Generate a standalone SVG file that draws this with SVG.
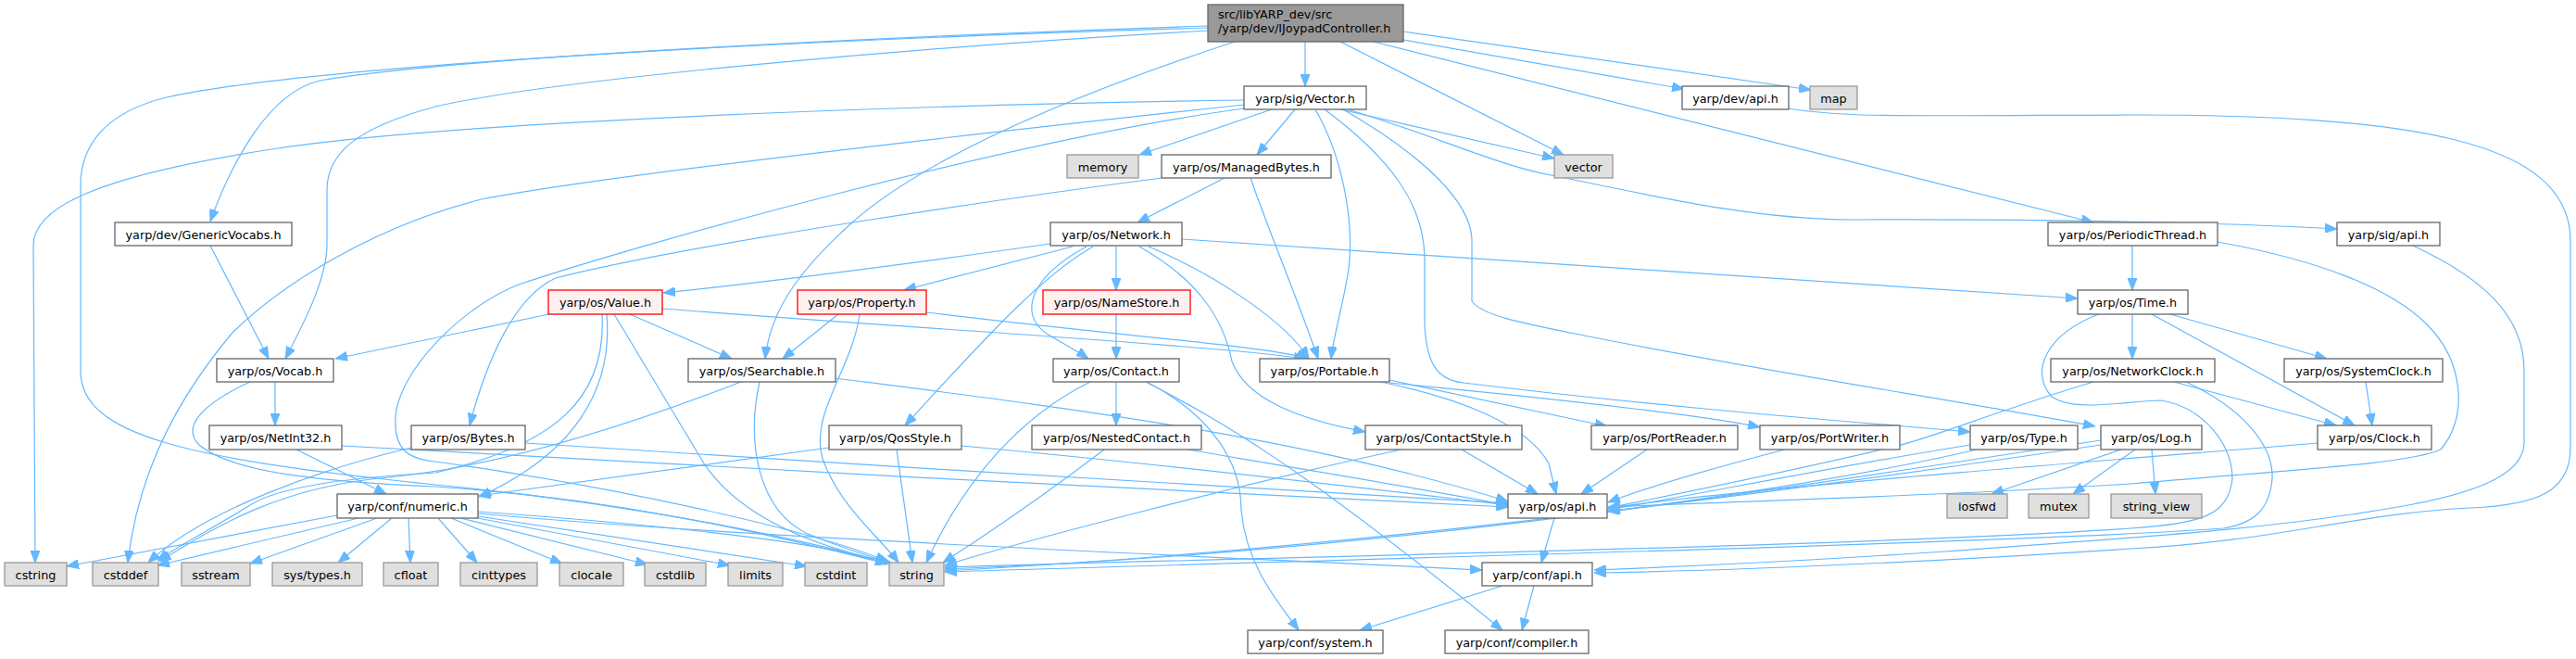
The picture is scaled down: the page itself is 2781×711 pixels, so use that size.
<svg xmlns="http://www.w3.org/2000/svg" width="2781" height="711" viewBox="0 0 2781 711">
<defs>
<marker id="a" markerUnits="userSpaceOnUse" markerWidth="13" markerHeight="10" refX="13" refY="5" orient="auto"><path d="M0,0 L13,5 L0,10 z" fill="#63b8ff" stroke="#63b8ff" stroke-width="1"/></marker>
</defs>
<style>
rect{fill:#ffffff;stroke:#666666;stroke-width:1.3}
.ext rect{fill:#e0e0e0;stroke:#999999}
.red rect{fill:#fff0f0;stroke:#ff0000}
.main rect{fill:#999999;stroke:#666666}
text{font-family:"DejaVu Sans","Liberation Sans",sans-serif;font-size:12.8px;fill:#000000;text-anchor:middle}
.main text{text-anchor:start}
#edges path{fill:none;stroke:#63b8ff;stroke-width:1.2;marker-end:url(#a)}
</style>
<rect x="0" y="0" width="2781" height="711" style="fill:#ffffff;stroke:none"/>
<g id="edges">
<path d="M1304,28 C1000,38 500,60 345,87 C290,100 250,175 227,239"/>
<path d="M1304,30 C900,42 350,68 180,105 C110,122 87,160 87,200 L87,400 C87,470 200,495 470,523 C700,545 880,585 958,608"/>
<path d="M1304,33 C1000,50 600,85 470,115 C385,138 353,165 353,205 L353,263 C353,300 330,345 308,387"/>
<path d="M1447,45 L1688,167"/>
<path d="M1409,45 L1409,93"/>
<path d="M1515,43 L1818,96"/>
<path d="M1515,34 L1955,97"/>
<path d="M1483,45 L2260,240"/>
<path d="M1333,45 C1150,105 1000,170 920,240 C870,285 832,330 826,387"/>
<path d="M1343,108 C1000,113 500,130 300,160 C100,190 36,225 36,265 L38,607"/>
<path d="M1343,113 C1000,150 650,190 520,215 C400,245 300,310 250,360 C200,420 150,500 138,607"/>
<path d="M1343,117 C1100,150 700,260 560,307 C500,330 430,400 427,450 C425,485 440,495 470,498 C700,530 900,580 958,606"/>
<path d="M1373,118 L1230,167"/>
<path d="M1398,118 L1357,167"/>
<path d="M1447,118 L1678,171"/>
<path d="M1420,118 C1450,170 1462,240 1456,290 C1450,330 1440,360 1437,387"/>
<path d="M1430,118 C1500,170 1538,220 1538,280 L1538,350 C1540,390 1550,410 1580,413 C1800,440 2000,455 2127,466"/>
<path d="M1450,118 C1540,170 1589,220 1589,260 L1589,325 C1600,340 1640,348 1700,360 C1900,400 2100,430 2262,460"/>
<path d="M1455,118 C1560,150 1620,180 1680,190 C1800,215 1900,237 2000,237 C2200,236 2400,240 2523,247"/>
<path d="M1254,192 C1100,212 750,262 600,300 C555,320 525,390 507,459"/>
<path d="M1322,192 L1228,240"/>
<path d="M1350,192 C1370,250 1400,320 1423,387"/>
<path d="M1134,263 C1000,282 850,302 716,316"/>
<path d="M1158,266 L976,313"/>
<path d="M1205,266 L1205,313"/>
<path d="M1180,266 C1120,300 1050,380 977,459"/>
<path d="M1173,266 C1110,300 1100,340 1130,360 C1150,372 1165,380 1175,387"/>
<path d="M1230,266 C1290,300 1320,340 1330,390 C1345,430 1400,452 1474,466"/>
<path d="M1240,266 C1320,300 1390,350 1413,387"/>
<path d="M1276,258 L2243,322"/>
<path d="M593,339 L362,387"/>
<path d="M680,339 L790,387"/>
<path d="M715,333 C1000,355 1300,372 1410,387"/>
<path d="M655,339 C662,420 620,490 517,536"/>
<path d="M650,339 C655,430 600,480 470,510 C380,515 300,525 270,545 C230,570 190,590 170,605"/>
<path d="M663,339 L760,500 C800,560 880,590 962,607"/>
<path d="M905,339 L845,387"/>
<path d="M928,339 C920,400 870,450 890,500 C910,550 950,580 970,607"/>
<path d="M1000,337 C1200,362 1360,372 1413,387"/>
<path d="M1205,339 L1205,387"/>
<path d="M902,408 C1150,440 1400,470 1628,541"/>
<path d="M820,412 C805,480 820,550 870,575 C910,592 940,600 962,608"/>
<path d="M800,412 C650,470 520,505 420,515 C300,525 230,570 172,606"/>
<path d="M297,412 L297,459"/>
<path d="M270,412 C220,435 195,460 215,480 C250,510 350,520 470,525 C700,540 880,590 958,608"/>
<path d="M227,265 L290,387"/>
<path d="M320,485 L417,533"/>
<path d="M369,481 C700,500 1300,532 1628,547"/>
<path d="M444,483 C350,505 220,550 160,607"/>
<path d="M567,478 C900,500 1400,530 1628,543"/>
<path d="M895,483 L517,535"/>
<path d="M968,485 L985,607"/>
<path d="M1038,481 C1300,505 1500,530 1628,545"/>
<path d="M1205,412 L1205,459"/>
<path d="M1177,412 C1100,450 1040,520 1000,607"/>
<path d="M1240,413 C1310,450 1340,500 1340,550 C1345,610 1380,650 1402,680"/>
<path d="M1237,412 C1320,455 1400,500 1622,680"/>
<path d="M1192,485 C1120,540 1060,580 1018,607"/>
<path d="M1282,485 C1400,505 1550,530 1628,545"/>
<path d="M1578,485 L1660,533"/>
<path d="M1513,485 C1350,520 1100,585 1020,610"/>
<path d="M1490,412 C1580,430 1650,460 1672,500 L1680,533"/>
<path d="M1500,410 L1735,460"/>
<path d="M1500,413 C1700,432 1850,450 1900,461"/>
<path d="M1778,485 L1707,533"/>
<path d="M1927,485 C1850,505 1780,525 1736,542"/>
<path d="M2127,480 C2000,500 1850,530 1736,550"/>
<path d="M2134,485 C1900,540 1400,600 1020,614"/>
<path d="M2268,475 C2100,500 1900,532 1736,552"/>
<path d="M2290,485 L2150,533"/>
<path d="M2305,485 L2238,533"/>
<path d="M2323,485 L2327,533"/>
<path d="M2268,480 C2000,520 1500,590 1020,616"/>
<path d="M2302,339 L2302,387"/>
<path d="M2343,339 L2512,387"/>
<path d="M2323,339 L2542,459"/>
<path d="M2268,338 C2210,360 2190,400 2215,428 C2240,445 2290,433 2333,432 C2380,440 2410,480 2410,517 C2405,555 2380,565 2300,570 C2000,590 1400,600 1020,612"/>
<path d="M2347,412 L2522,459"/>
<path d="M2360,412 C2420,440 2455,480 2453,517 C2450,550 2433,565 2400,570 C2200,585 1400,605 1020,617"/>
<path d="M2260,412 C2150,445 2080,475 2040,483 C1950,505 1850,525 1736,548"/>
<path d="M2554,412 L2561,459"/>
<path d="M2502,478 C2300,495 1900,525 1736,548"/>
<path d="M2302,265 L2302,313"/>
<path d="M2394,261 C2500,280 2580,310 2620,350 C2660,390 2665,450 2635,485 C2600,500 2500,505 2300,522 C2100,535 1900,540 1736,547"/>
<path d="M2605,265 C2680,300 2725,340 2725,400 L2725,477 C2725,510 2680,530 2600,545 C2450,572 2300,580 2100,595 C1950,605 1800,612 1721,615"/>
<path d="M1931,117 C1990,127 2050,125 2300,124 C2600,124 2775,150 2775,260 L2775,483 C2775,530 2740,545 2667,548 C2550,553 2450,585 2300,592 C2100,605 1900,615 1721,618"/>
<path d="M1678,559 L1664,607"/>
<path d="M1622,632 L1468,680"/>
<path d="M1656,632 L1643,680"/>
<path d="M364,556 L72,611"/>
<path d="M387,559 L170,610"/>
<path d="M407,559 L270,608"/>
<path d="M423,559 L365,607"/>
<path d="M441,559 L443,607"/>
<path d="M473,559 L515,607"/>
<path d="M487,559 L607,608"/>
<path d="M497,559 L699,609"/>
<path d="M510,558 L788,610"/>
<path d="M516,557 L871,611"/>
<path d="M516,552 C700,565 900,585 958,609"/>
<path d="M516,554 C800,580 1300,600 1600,615"/>
</g>
<g id="n_main" class="main"><rect x="1304" y="5" width="211" height="40"/><text x="1315" y="20">src/libYARP_dev/src</text><text x="1315" y="35">/yarp/dev/IJoypadController.h</text></g>
<g id="n_vector_h"><rect x="1343" y="93" width="132" height="25"/><text x="1409" y="110.5">yarp/sig/Vector.h</text></g>
<g id="n_devapi"><rect x="1816" y="93" width="115" height="25"/><text x="1873.5" y="110.5">yarp/dev/api.h</text></g>
<g id="n_map" class="ext"><rect x="1954" y="93" width="51" height="25"/><text x="1979.5" y="110.5">map</text></g>
<g id="n_memory" class="ext"><rect x="1152" y="167" width="77" height="25"/><text x="1190.5" y="184.5">memory</text></g>
<g id="n_managedbytes"><rect x="1254" y="167" width="183" height="25"/><text x="1345.5" y="184.5">yarp/os/ManagedBytes.h</text></g>
<g id="n_vector" class="ext"><rect x="1678" y="167" width="63" height="25"/><text x="1709.5" y="184.5">vector</text></g>
<g id="n_genericvocabs"><rect x="124" y="240" width="191" height="25"/><text x="219.5" y="257.5">yarp/dev/GenericVocabs.h</text></g>
<g id="n_network"><rect x="1134" y="240" width="142" height="25"/><text x="1205" y="257.5">yarp/os/Network.h</text></g>
<g id="n_periodicthread"><rect x="2211" y="240" width="183" height="25"/><text x="2302.5" y="257.5">yarp/os/PeriodicThread.h</text></g>
<g id="n_sigapi"><rect x="2523" y="240" width="111" height="25"/><text x="2578.5" y="257.5">yarp/sig/api.h</text></g>
<g id="n_value" class="red"><rect x="592" y="313" width="123" height="26"/><text x="653.5" y="330.5">yarp/os/Value.h</text></g>
<g id="n_property" class="red"><rect x="861" y="313" width="139" height="26"/><text x="930.5" y="330.5">yarp/os/Property.h</text></g>
<g id="n_namestore" class="red"><rect x="1126" y="313" width="159" height="26"/><text x="1205.5" y="330.5">yarp/os/NameStore.h</text></g>
<g id="n_time"><rect x="2243" y="313" width="119" height="26"/><text x="2302.5" y="330.5">yarp/os/Time.h</text></g>
<g id="n_vocab"><rect x="234" y="387" width="126" height="25"/><text x="297" y="404.5">yarp/os/Vocab.h</text></g>
<g id="n_searchable"><rect x="743" y="387" width="159" height="25"/><text x="822.5" y="404.5">yarp/os/Searchable.h</text></g>
<g id="n_contact"><rect x="1137" y="387" width="136" height="25"/><text x="1205" y="404.5">yarp/os/Contact.h</text></g>
<g id="n_portable"><rect x="1360" y="387" width="140" height="25"/><text x="1430" y="404.5">yarp/os/Portable.h</text></g>
<g id="n_networkclock"><rect x="2214" y="387" width="177" height="25"/><text x="2302.5" y="404.5">yarp/os/NetworkClock.h</text></g>
<g id="n_systemclock"><rect x="2466" y="387" width="171" height="25"/><text x="2551.5" y="404.5">yarp/os/SystemClock.h</text></g>
<g id="n_netint32"><rect x="226" y="459" width="143" height="26"/><text x="297.5" y="476.5">yarp/os/NetInt32.h</text></g>
<g id="n_bytes"><rect x="444" y="459" width="123" height="26"/><text x="505.5" y="476.5">yarp/os/Bytes.h</text></g>
<g id="n_qosstyle"><rect x="895" y="459" width="143" height="26"/><text x="966.5" y="476.5">yarp/os/QosStyle.h</text></g>
<g id="n_nestedcontact"><rect x="1114" y="459" width="183" height="26"/><text x="1205.5" y="476.5">yarp/os/NestedContact.h</text></g>
<g id="n_contactstyle"><rect x="1474" y="459" width="169" height="26"/><text x="1558.5" y="476.5">yarp/os/ContactStyle.h</text></g>
<g id="n_portreader"><rect x="1718" y="459" width="158" height="26"/><text x="1797" y="476.5">yarp/os/PortReader.h</text></g>
<g id="n_portwriter"><rect x="1900" y="459" width="151" height="26"/><text x="1975.5" y="476.5">yarp/os/PortWriter.h</text></g>
<g id="n_type"><rect x="2127" y="459" width="116" height="26"/><text x="2185" y="476.5">yarp/os/Type.h</text></g>
<g id="n_log"><rect x="2268" y="459" width="109" height="26"/><text x="2322.5" y="476.5">yarp/os/Log.h</text></g>
<g id="n_clock"><rect x="2502" y="459" width="123" height="26"/><text x="2563.5" y="476.5">yarp/os/Clock.h</text></g>
<g id="n_numeric"><rect x="364" y="533" width="152" height="26"/><text x="440" y="550.5">yarp/conf/numeric.h</text></g>
<g id="n_osapi"><rect x="1628" y="533" width="107" height="26"/><text x="1681.5" y="550.5">yarp/os/api.h</text></g>
<g id="n_iosfwd" class="ext"><rect x="2102" y="533" width="65" height="26"/><text x="2134.5" y="550.5">iosfwd</text></g>
<g id="n_mutex" class="ext"><rect x="2190" y="533" width="65" height="26"/><text x="2222.5" y="550.5">mutex</text></g>
<g id="n_string_view" class="ext"><rect x="2279" y="533" width="98" height="26"/><text x="2328" y="550.5">string_view</text></g>
<g id="n_cstring" class="ext"><rect x="5" y="607" width="67" height="25"/><text x="38.5" y="624.5">cstring</text></g>
<g id="n_cstddef" class="ext"><rect x="100" y="607" width="71" height="25"/><text x="135.5" y="624.5">cstddef</text></g>
<g id="n_sstream" class="ext"><rect x="196" y="607" width="74" height="25"/><text x="233" y="624.5">sstream</text></g>
<g id="n_systypes" class="ext"><rect x="294" y="607" width="97" height="25"/><text x="342.5" y="624.5">sys/types.h</text></g>
<g id="n_cfloat" class="ext"><rect x="414" y="607" width="59" height="25"/><text x="443.5" y="624.5">cfloat</text></g>
<g id="n_cinttypes" class="ext"><rect x="497" y="607" width="83" height="25"/><text x="538.5" y="624.5">cinttypes</text></g>
<g id="n_clocale" class="ext"><rect x="604" y="607" width="69" height="25"/><text x="638.5" y="624.5">clocale</text></g>
<g id="n_cstdlib" class="ext"><rect x="696" y="607" width="66" height="25"/><text x="729" y="624.5">cstdlib</text></g>
<g id="n_limits" class="ext"><rect x="786" y="607" width="59" height="25"/><text x="815.5" y="624.5">limits</text></g>
<g id="n_cstdint" class="ext"><rect x="869" y="607" width="67" height="25"/><text x="902.5" y="624.5">cstdint</text></g>
<g id="n_string" class="ext"><rect x="960" y="607" width="59" height="25"/><text x="989.5" y="624.5">string</text></g>
<g id="n_confapi"><rect x="1600" y="607" width="119" height="25"/><text x="1659.5" y="624.5">yarp/conf/api.h</text></g>
<g id="n_system"><rect x="1347" y="680" width="146" height="25"/><text x="1420" y="697.5">yarp/conf/system.h</text></g>
<g id="n_compiler"><rect x="1560" y="680" width="155" height="25"/><text x="1637.5" y="697.5">yarp/conf/compiler.h</text></g>
</svg>
